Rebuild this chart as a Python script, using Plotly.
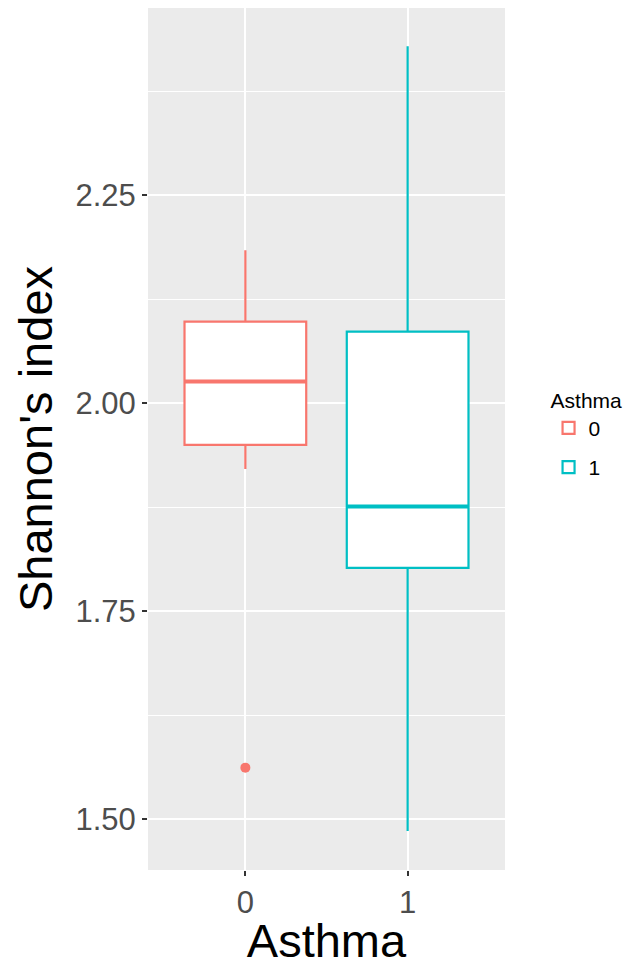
import plotly.graph_objects as go

# Data
groups = ["0", "1"]
group_pos = [0, 1]
colors = ["#F8766D", "#00BFC4"]
q1_vals = [1.950, 1.802]
median_vals = [2.026, 1.876]
q3_vals = [2.098, 2.086]
lower_whisker = [1.921, 1.486]
upper_whisker = [2.184, 2.429]
outlier_group = [0]
outlier_vals = [1.562]

box_width = 0.75
FONT = "Liberation Sans, Arial, sans-serif"

fig = go.Figure()
for i, g in enumerate(groups):
    fig.add_trace(go.Box(
        x=[group_pos[i]], q1=[q1_vals[i]], median=[median_vals[i]], q3=[q3_vals[i]],
        lowerfence=[lower_whisker[i]], upperfence=[upper_whisker[i]],
        name=g, legendgroup=g, width=box_width,
        fillcolor="white", line=dict(color=colors[i], width=2.2),
        whiskerwidth=0, boxpoints=False, hoverinfo="skip",
    ))
    # thicker median line like ggplot
    fig.add_trace(go.Scatter(
        x=[group_pos[i] - box_width / 2, group_pos[i] + box_width / 2],
        y=[median_vals[i], median_vals[i]],
        mode="lines", line=dict(color=colors[i], width=4),
        showlegend=False, legendgroup=g, hoverinfo="skip",
    ))

for gi, v in zip(outlier_group, outlier_vals):
    fig.add_trace(go.Scatter(
        x=[group_pos[gi]], y=[v], mode="markers",
        marker=dict(color=colors[gi], size=10),
        showlegend=False, hoverinfo="skip",
    ))

fig.update_layout(
    width=633, height=967,
    margin=dict(l=148, r=125, t=8, b=97),
    paper_bgcolor="white", plot_bgcolor="#EBEBEB",
    boxmode="overlay",
    font=dict(family=FONT, color="black"),
    legend=dict(
        title=dict(text="Asthma", font=dict(size=21, color="black")),
        font=dict(size=21, color="black"),
        x=1.122, xanchor="left", y=0.568, yanchor="top",
        bgcolor="rgba(0,0,0,0)", tracegroupgap=9,
    ),
    xaxis=dict(
        range=[-0.6, 1.6], tickvals=group_pos, ticktext=groups,
        showgrid=True, gridcolor="white", gridwidth=2, zeroline=False,
        ticks="outside", ticklen=5, tickwidth=2, tickcolor="#333333",
        tickfont=dict(size=31, color="#4D4D4D", family=FONT),
        title=dict(text="Asthma", font=dict(size=47, color="black", family=FONT), standoff=4),
        showline=False,
    ),
    yaxis=dict(
        range=[1.439, 2.475], tickvals=[1.5, 1.75, 2.0, 2.25],
        ticktext=["1.50", "1.75", "2.00", "2.25"],
        showgrid=True, gridcolor="white", gridwidth=2, zeroline=False,
        minor=dict(tickvals=[1.625, 1.875, 2.125, 2.375], showgrid=True,
                   gridcolor="white", gridwidth=1, ticks=""),
        ticks="outside", ticklen=5, tickwidth=2, tickcolor="#333333",
        tickfont=dict(size=31, color="#4D4D4D", family=FONT),
        title=dict(text="Shannon's index", font=dict(size=47, color="black", family=FONT), standoff=8),
        showline=False,
    ),
)

fig.write_html("out.html", config={"displayModeBar": False},
               post_script="document.body.style.margin='0';document.body.style.overflow='hidden';")
